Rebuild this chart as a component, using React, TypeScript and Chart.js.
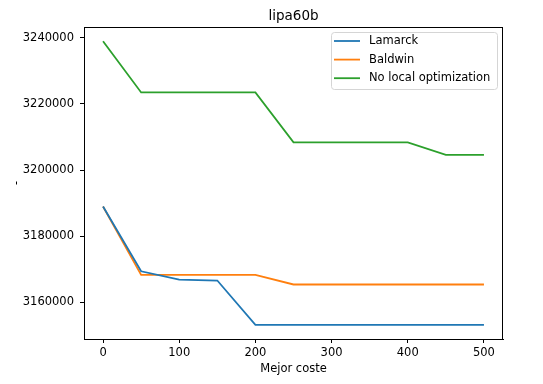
import React, { useEffect, useRef } from "react";
import { Chart, registerables } from "chart.js";

Chart.register(...registerables);

const generations = [0, 50, 100, 150, 200, 250, 300, 350, 400, 450, 500];
const lamarck = [3189000, 3169400, 3166900, 3166600, 3153200, 3153200, 3153200, 3153200, 3153200, 3153200, 3153200];
const baldwin = [3189000, 3168300, 3168300, 3168300, 3168300, 3165400, 3165400, 3165400, 3165400, 3165400, 3165400];
const noLocal = [3239000, 3223500, 3223500, 3223500, 3223500, 3208400, 3208400, 3208400, 3208400, 3204600, 3204600];
const seriesLabels = ["Lamarck", "Baldwin", "No local optimization"];
const seriesColors = ["#1f77b4", "#ff7f0e", "#2ca02c"];
const xTicks = [0, 100, 200, 300, 400, 500];
const yTicks = [3160000, 3180000, 3200000, 3220000, 3240000];
const titleText = "lipa60b";
const xTitle = "Mejor coste";
const yTitle = "-";

const FONT = "'DejaVu Sans', sans-serif";

export default function App() {
  const ref = useRef<HTMLCanvasElement | null>(null);

  useEffect(() => {
    document.body.style.margin = "0";
    const canvas = ref.current;
    if (!canvas) return;

    const all = [...lamarck, ...baldwin, ...noLocal];
    const yMinD = Math.min(...all);
    const yMaxD = Math.max(...all);
    const yr = yMaxD - yMinD;
    const xMinD = Math.min(...generations);
    const xMaxD = Math.max(...generations);
    const xr = xMaxD - xMinD;

    const series = [lamarck, baldwin, noLocal];

    const decor = {
      id: "decor",
      afterDraw(chart: any) {
        const { ctx, chartArea } = chart;
        const { left, right, top, bottom } = chartArea;
        ctx.save();
        // frame
        ctx.strokeStyle = "#000";
        ctx.lineWidth = 1;
        ctx.strokeRect(left + 0.5, top + 0.5, right - left - 1, bottom - top);
        // title
        ctx.fillStyle = "#000";
        ctx.textAlign = "center";
        ctx.textBaseline = "alphabetic";
        ctx.font = `13.5px ${FONT}`;
        ctx.fillText(titleText, (left + right) / 2, 20);
        // x title
        ctx.font = `11.5px ${FONT}`;
        ctx.fillText(xTitle, (left + right) / 2, 372);
        // y title
        ctx.save();
        ctx.translate(17, (top + bottom) / 2);
        ctx.rotate(-Math.PI / 2);
        ctx.textBaseline = "middle";
        ctx.fillText(yTitle, 0, 0);
        ctx.restore();
        // legend
        const bx = 331, by = 32, bw = 166, bh = 57;
        ctx.fillStyle = "rgba(255,255,255,0.8)";
        ctx.strokeStyle = "#d5d5d5";
        ctx.lineWidth = 1;
        ctx.beginPath();
        const r = 3;
        ctx.moveTo(bx + r + 0.5, by + 0.5);
        ctx.arcTo(bx + bw + 0.5, by + 0.5, bx + bw + 0.5, by + bh + 0.5, r);
        ctx.arcTo(bx + bw + 0.5, by + bh + 0.5, bx + 0.5, by + bh + 0.5, r);
        ctx.arcTo(bx + 0.5, by + bh + 0.5, bx + 0.5, by + 0.5, r);
        ctx.arcTo(bx + 0.5, by + 0.5, bx + bw + 0.5, by + 0.5, r);
        ctx.closePath();
        ctx.fill();
        ctx.stroke();
        ctx.font = `11.5px ${FONT}`;
        ctx.textAlign = "left";
        ctx.textBaseline = "middle";
        chart.data.datasets.forEach((ds: any, i: number) => {
          const yy = 41 + i * 18.6;
          ctx.strokeStyle = ds.borderColor;
          ctx.lineWidth = 1.8;
          ctx.beginPath();
          ctx.moveTo(334, yy);
          ctx.lineTo(360, yy);
          ctx.stroke();
          ctx.fillStyle = "#000";
          ctx.fillText(ds.label, 369, yy);
        });
        ctx.restore();
      },
    };

    const chart = new Chart(canvas, {
      type: "line",
      data: {
        datasets: series.map((vals, i) => ({
          label: seriesLabels[i],
          data: generations.map((g, j) => ({ x: g, y: vals[j] })),
          borderColor: seriesColors[i],
          backgroundColor: seriesColors[i],
          borderWidth: 1.8,
          pointRadius: 0,
          tension: 0,
          fill: false,
        })),
      },
      options: {
        responsive: false,
        animation: false,
        layout: { padding: { left: 0, top: 27, right: 40, bottom: 0 } },
        plugins: {
          legend: { display: false },
          title: { display: false },
          tooltip: { enabled: false },
        },
        scales: {
          x: {
            type: "linear",
            min: xMinD - 0.05 * xr,
            max: xMaxD + 0.05 * xr,
            afterBuildTicks: (s: any) => {
              s.ticks = xTicks.map((v) => ({ value: v }));
            },
            afterFit: (s: any) => {
              s.height = 45;
            },
            grid: {
              drawOnChartArea: false,
              drawTicks: true,
              tickLength: 4,
              tickColor: "#000",
            },
            border: { color: "#000", width: 1 },
            ticks: {
              color: "#000",
              font: { family: FONT, size: 11.5 },
              padding: 3,
              maxRotation: 0,
              autoSkip: false,
              callback: (v: any) => String(v),
            },
          },
          y: {
            type: "linear",
            min: yMinD - 0.05 * yr,
            max: yMaxD + 0.05 * yr,
            afterBuildTicks: (s: any) => {
              s.ticks = yTicks.map((v) => ({ value: v }));
            },
            afterFit: (s: any) => {
              s.width = 84;
            },
            grid: {
              drawOnChartArea: false,
              drawTicks: true,
              tickLength: 4,
              tickColor: "#000",
            },
            border: { color: "#000", width: 1 },
            ticks: {
              color: "#000",
              font: { family: FONT, size: 11.5 },
              padding: 6,
              autoSkip: false,
              callback: (v: any) => String(v),
            },
          },
        },
      },
      plugins: [decor],
    });

    return () => chart.destroy();
  }, []);

  return (
    <div style={{ width: 543, height: 384 }}>
      <canvas ref={ref} width={543} height={384} style={{ display: "block" }} />
    </div>
  );
}
